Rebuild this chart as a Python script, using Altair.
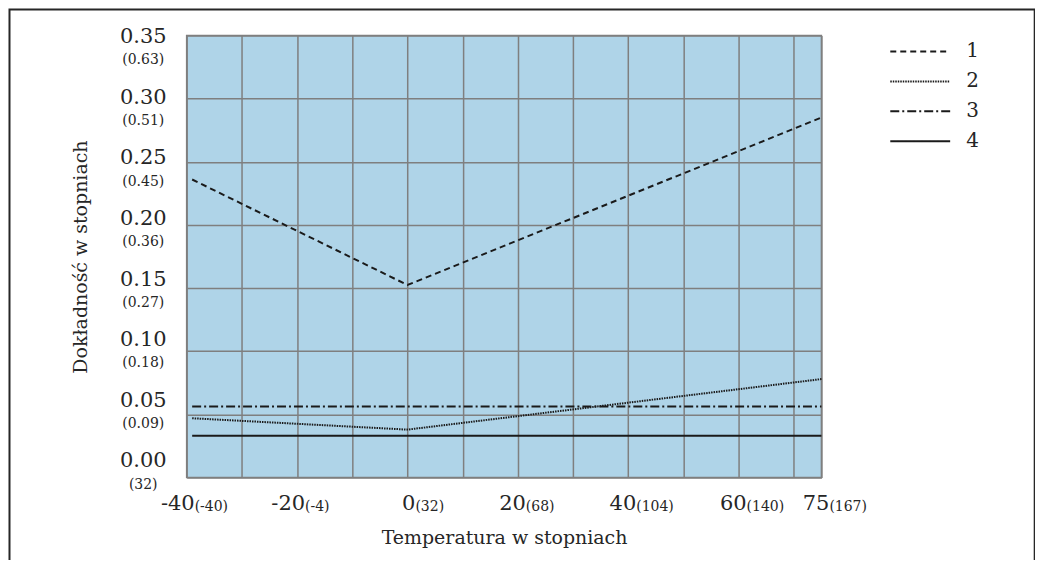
import altair as alt
import pandas as pd

FONT = "DejaVu Serif"
INK = "#262626"

# ---- data ----
series_names = ["1", "2", "3", "4"]
temps_1 = [-39, 0, 75]
acc_1 = [0.236, 0.1525, 0.285]
temps_2 = [-39, 0, 75]
acc_2 = [0.047, 0.038, 0.078]
temps_3 = [-39, 75]
acc_3 = [0.0563, 0.0563]
temps_4 = [-39, 75]
acc_4 = [0.0332, 0.0332]

x_grid = [-40, -30, -20, -10, 0, 10, 20, 30, 40, 50, 60, 70, 75]
y_grid = [0.0, 0.05, 0.10, 0.15, 0.20, 0.25, 0.30, 0.35]

x_ticks = [-40, -20, 0, 20, 40, 60, 75]
x_main_labels = ["-40", "-20", "0", "20", "40", "60", "75"]
x_sub_labels = ["(-40)", "(-4)", "(32)", "(68)", "(104)", "(140)", "(167)"]

y_ticks = [0.35, 0.30, 0.25, 0.20, 0.15, 0.10, 0.05, 0.00]
y_main_labels = ["0.35", "0.30", "0.25", "0.20", "0.15", "0.10", "0.05", "0.00"]
y_sub_labels = ["(0.63)", "(0.51)", "(0.45)", "(0.36)", "(0.27)", "(0.18)", "(0.09)", "(32)"]

# ---- tables ----
rows = []
for name, ts, ys in zip(series_names, [temps_1, temps_2, temps_3, temps_4],
                        [acc_1, acc_2, acc_3, acc_4]):
    for t, a in zip(ts, ys):
        rows.append({"series": name, "temp": t, "acc": a})
df_lines = pd.DataFrame(rows)
df_x = pd.DataFrame({"temp": x_ticks, "main": x_main_labels, "sub": x_sub_labels})
df_y = pd.DataFrame({"v": y_ticks, "main": y_main_labels, "sub": y_sub_labels})

x_scale = alt.Scale(domain=[-40, 75], nice=False, zero=False)
y_scale = alt.Scale(domain=[0, 0.35], nice=False, zero=False)
ylab_scale = alt.Scale(domain=[-0.01342, 0.3514], nice=False, zero=False)

x_axis = alt.Axis(values=x_grid, grid=True, labels=False, ticks=False, domain=False,
                  title="Temperatura w stopniach", titlePadding=51,
                  titleFont=FONT, titleFontSize=19, titleFontWeight="normal", titleColor=INK)
y_axis = alt.Axis(values=y_grid, grid=True, labels=False, ticks=False, domain=False,
                  title="Dokładność w stopniach", titlePadding=96,
                  titleFont=FONT, titleFontSize=19, titleFontWeight="normal", titleColor=INK)

border = alt.Chart(alt.Data(values=[{"a": 1}])).mark_rect(
    filled=False, stroke=INK, strokeWidth=2
).encode(
    x=alt.value(-177.5), x2=alt.value(849.7), y=alt.value(-26), y2=alt.value(600)
)

lines = alt.Chart(df_lines).mark_line(color="#1a1a1a", strokeWidth=2, strokeCap="butt").encode(
    x=alt.X("temp:Q", scale=x_scale, axis=x_axis),
    y=alt.Y("acc:Q", scale=y_scale, axis=y_axis),
    strokeDash=alt.StrokeDash(
        "series:N",
        scale=alt.Scale(domain=series_names, range=[[6, 4], [1.5, 1], [9, 3, 2, 3], [1, 0]]),
        legend=alt.Legend(title=None, orient="none", legendX=724, legendY=5,
                          symbolType="M-3,0H3", symbolSize=400, symbolStrokeWidth=2,
                          symbolStrokeColor="#1a1a1a", symbolFillColor="transparent",
                          labelFontSize=20, labelFont=FONT,
                          labelColor=INK, labelOffset=35, rowPadding=9, padding=0),
    ),
)

x_big = alt.Chart(df_x).mark_text(font=FONT, fontSize=21, color=INK, align="right",
                                  baseline="alphabetic", dx=8).encode(
    x=alt.X("temp:Q", scale=x_scale, axis=x_axis), y=alt.value(475), text="main:N")
x_small = alt.Chart(df_x).mark_text(font=FONT, fontSize=14, color=INK, align="left",
                                    baseline="alphabetic", dx=8).encode(
    x=alt.X("temp:Q", scale=x_scale, axis=x_axis), y=alt.value(476), text="sub:N")

y_big = alt.Chart(df_y).mark_text(font=FONT, fontSize=21, color=INK, align="center",
                                  baseline="middle").encode(
    x=alt.value(-43.5), y=alt.Y("v:Q", scale=ylab_scale, axis=None), text="main:N")
y_small = alt.Chart(df_y).mark_text(font=FONT, fontSize=14, color=INK, align="center",
                                    baseline="middle", dy=23.3).encode(
    x=alt.value(-43.5), y=alt.Y("v:Q", scale=ylab_scale, axis=None), text="sub:N")

chart = alt.layer(border, lines, x_big, x_small, y_big, y_small).resolve_scale(
    y="independent"
).properties(
    width=636, height=443,
    autosize=alt.AutoSizeParams(type="none"),
    padding={"left": 179, "top": 27, "right": 214, "bottom": 82},
).configure(background="white").configure_view(
    fill="#afd4e8", stroke="#7f7f7f", strokeWidth=1.5
).configure_axis(
    gridColor="#7f7f7f", gridWidth=1.5, gridOpacity=1,
)

chart.save("out.html", embed_options={"renderer": "svg", "actions": False})
